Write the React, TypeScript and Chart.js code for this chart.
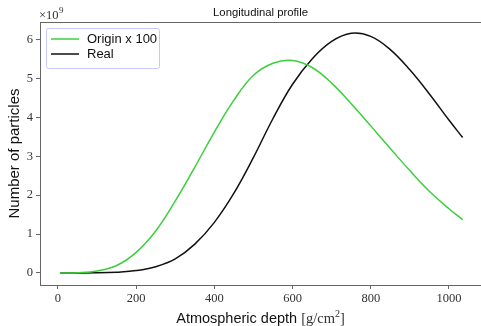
import React, { useEffect, useRef } from "react";
import { Chart, registerables } from "chart.js";

Chart.register(...registerables);

const depth = [5, 50, 100, 150, 200, 250, 300, 350, 400, 450, 500, 550, 600, 650, 700, 750, 800, 850, 900, 950, 1000, 1035];
const originX100 = [0, 0.005, 0.05, 0.19, 0.53, 1.08, 1.85, 2.72, 3.62, 4.44, 5.08, 5.39, 5.46, 5.28, 4.88, 4.35, 3.78, 3.2, 2.63, 2.1, 1.65, 1.37];
const real = [0, 0, 0.003, 0.02, 0.06, 0.16, 0.36, 0.74, 1.3, 2.05, 2.97, 3.97, 4.85, 5.5, 5.95, 6.16, 6.08, 5.74, 5.22, 4.6, 3.93, 3.48];
const xTicks = [0, 200, 400, 600, 800, 1000];
const yTicks = [0, 1, 2, 3, 4, 5, 6];
const seriesNames = ["Origin x 100", "Real"];
const seriesColors = ["#3ccf3c", "#111111"];

const SANS = '"Liberation Sans", sans-serif';
const SERIF = '"Liberation Serif", serif';

const decor = {
  id: "decor",
  afterDraw(chart: any) {
    const ctx = chart.ctx as CanvasRenderingContext2D;
    const a = chart.chartArea;
    ctx.save();
    // top spine
    ctx.strokeStyle = "#666";
    ctx.lineWidth = 1;
    ctx.beginPath();
    ctx.moveTo(a.left, a.top + 0.5);
    ctx.lineTo(a.right, a.top + 0.5);
    ctx.stroke();

    // title
    ctx.fillStyle = "#111";
    ctx.textAlign = "center";
    ctx.textBaseline = "alphabetic";
    ctx.font = `11.3px ${SANS}`;
    ctx.fillText("Longitudinal profile", (a.left + a.right) / 2, 15.5);

    // x10^9
    ctx.textAlign = "left";
    ctx.fillStyle = "#333";
    ctx.font = `12.5px ${SERIF}`;
    ctx.fillText("\u00d710", 39, 18.5);
    const w = ctx.measureText("\u00d710").width;
    ctx.font = `9px ${SERIF}`;
    ctx.fillText("9", 39 + w + 0.5, 13);

    // y title
    ctx.save();
    ctx.translate(19, (a.top + a.bottom) / 2);
    ctx.rotate(-Math.PI / 2);
    ctx.textAlign = "center";
    ctx.fillStyle = "#111";
    ctx.font = `15px ${SANS}`;
    ctx.fillText("Number of particles", 0, 0);
    ctx.restore();

    // x title (mixed fonts)
    const fs = 14.5;
    const p1 = "Atmospheric depth ";
    const p2 = "[g/cm";
    const p3 = "2";
    const p4 = "]";
    ctx.font = `${fs}px ${SANS}`;
    const w1 = ctx.measureText(p1).width;
    ctx.font = `${fs}px ${SERIF}`;
    const w2 = ctx.measureText(p2).width;
    const w4 = ctx.measureText(p4).width;
    ctx.font = `10px ${SERIF}`;
    const w3 = ctx.measureText(p3).width;
    const total = w1 + w2 + w3 + w4;
    let x = (a.left + a.right) / 2 - total / 2;
    const yb = 323;
    ctx.fillStyle = "#111";
    ctx.textAlign = "left";
    ctx.font = `${fs}px ${SANS}`;
    ctx.fillText(p1, x, yb);
    x += w1;
    ctx.font = `${fs}px ${SERIF}`;
    ctx.fillStyle = "#333";
    ctx.fillText(p2, x, yb);
    x += w2;
    ctx.font = `10px ${SERIF}`;
    ctx.fillText(p3, x, yb - 6);
    x += w3;
    ctx.font = `${fs}px ${SERIF}`;
    ctx.fillText(p4, x, yb);

    // legend
    const lx = 46.5, ly = 28.5, lw = 113, lh = 40;
    ctx.fillStyle = "rgba(255,255,255,0.8)";
    ctx.strokeStyle = "#c8c8ff";
    ctx.lineWidth = 1;
    ctx.beginPath();
    if ((ctx as any).roundRect) (ctx as any).roundRect(lx, ly, lw, lh, 2);
    else ctx.rect(lx, ly, lw, lh);
    ctx.fill();
    ctx.stroke();
    ctx.font = `13px ${SANS}`;
    ctx.textBaseline = "middle";
    seriesNames.forEach((name, i) => {
      const yy = 39 + i * 15;
      ctx.strokeStyle = seriesColors[i];
      ctx.lineWidth = 1.5;
      ctx.beginPath();
      ctx.moveTo(51, yy);
      ctx.lineTo(79, yy);
      ctx.stroke();
      ctx.fillStyle = "#111";
      ctx.fillText(name, 87, yy);
    });
    ctx.restore();
  },
};

export default function App() {
  const ref = useRef<HTMLCanvasElement | null>(null);
  useEffect(() => {
    if (!ref.current) return;
    const chart = new Chart(ref.current, {
      type: "line",
      data: {
        datasets: [
          {
            label: seriesNames[0],
            data: depth.map((d, i) => ({ x: d, y: originX100[i] })),
            borderColor: seriesColors[0],
            borderWidth: 1.5,
            pointRadius: 0,
            tension: 0.4,
            fill: false,
          },
          {
            label: seriesNames[1],
            data: depth.map((d, i) => ({ x: d, y: real[i] })),
            borderColor: seriesColors[1],
            borderWidth: 1.5,
            pointRadius: 0,
            tension: 0.4,
            fill: false,
          },
        ],
      },
      options: {
        animation: false,
        responsive: false,
        devicePixelRatio: 1,
        layout: { padding: { top: 22, left: 0, right: 0, bottom: 0 } },
        plugins: { legend: { display: false }, tooltip: { enabled: false }, title: { display: false } },
        scales: {
          x: {
            type: "linear",
            min: -46,
            max: 1082,
            afterFit: (s: any) => { s.height = 41; },
            afterBuildTicks: (s: any) => { s.ticks = xTicks.map((v) => ({ value: v })); },
            ticks: { font: { family: SERIF, size: 12.5 }, color: "#333", padding: 2, maxRotation: 0, callback: (v: any) => String(v) },
            grid: { drawOnChartArea: false, drawTicks: true, tickLength: 4, color: "#666" },
            border: { color: "#666", width: 1 },
          },
          y: {
            type: "linear",
            min: -0.31,
            max: 6.45,
            afterFit: (s: any) => { s.width = 40; },
            afterBuildTicks: (s: any) => { s.ticks = yTicks.map((v) => ({ value: v })); },
            ticks: { font: { family: SERIF, size: 12.5 }, color: "#333", padding: 3, callback: (v: any) => String(v) },
            grid: { drawOnChartArea: false, drawTicks: true, tickLength: 4, color: "#666" },
            border: { color: "#666", width: 1 },
          },
        },
      },
      plugins: [decor],
    } as any);
    return () => chart.destroy();
  }, []);
  return (
    <div style={{ position: "absolute", left: 0, top: 0, width: 481, height: 326, background: "#fff" }}>
      <canvas ref={ref} width={481} height={326} style={{ display: "block" }} />
    </div>
  );
}
